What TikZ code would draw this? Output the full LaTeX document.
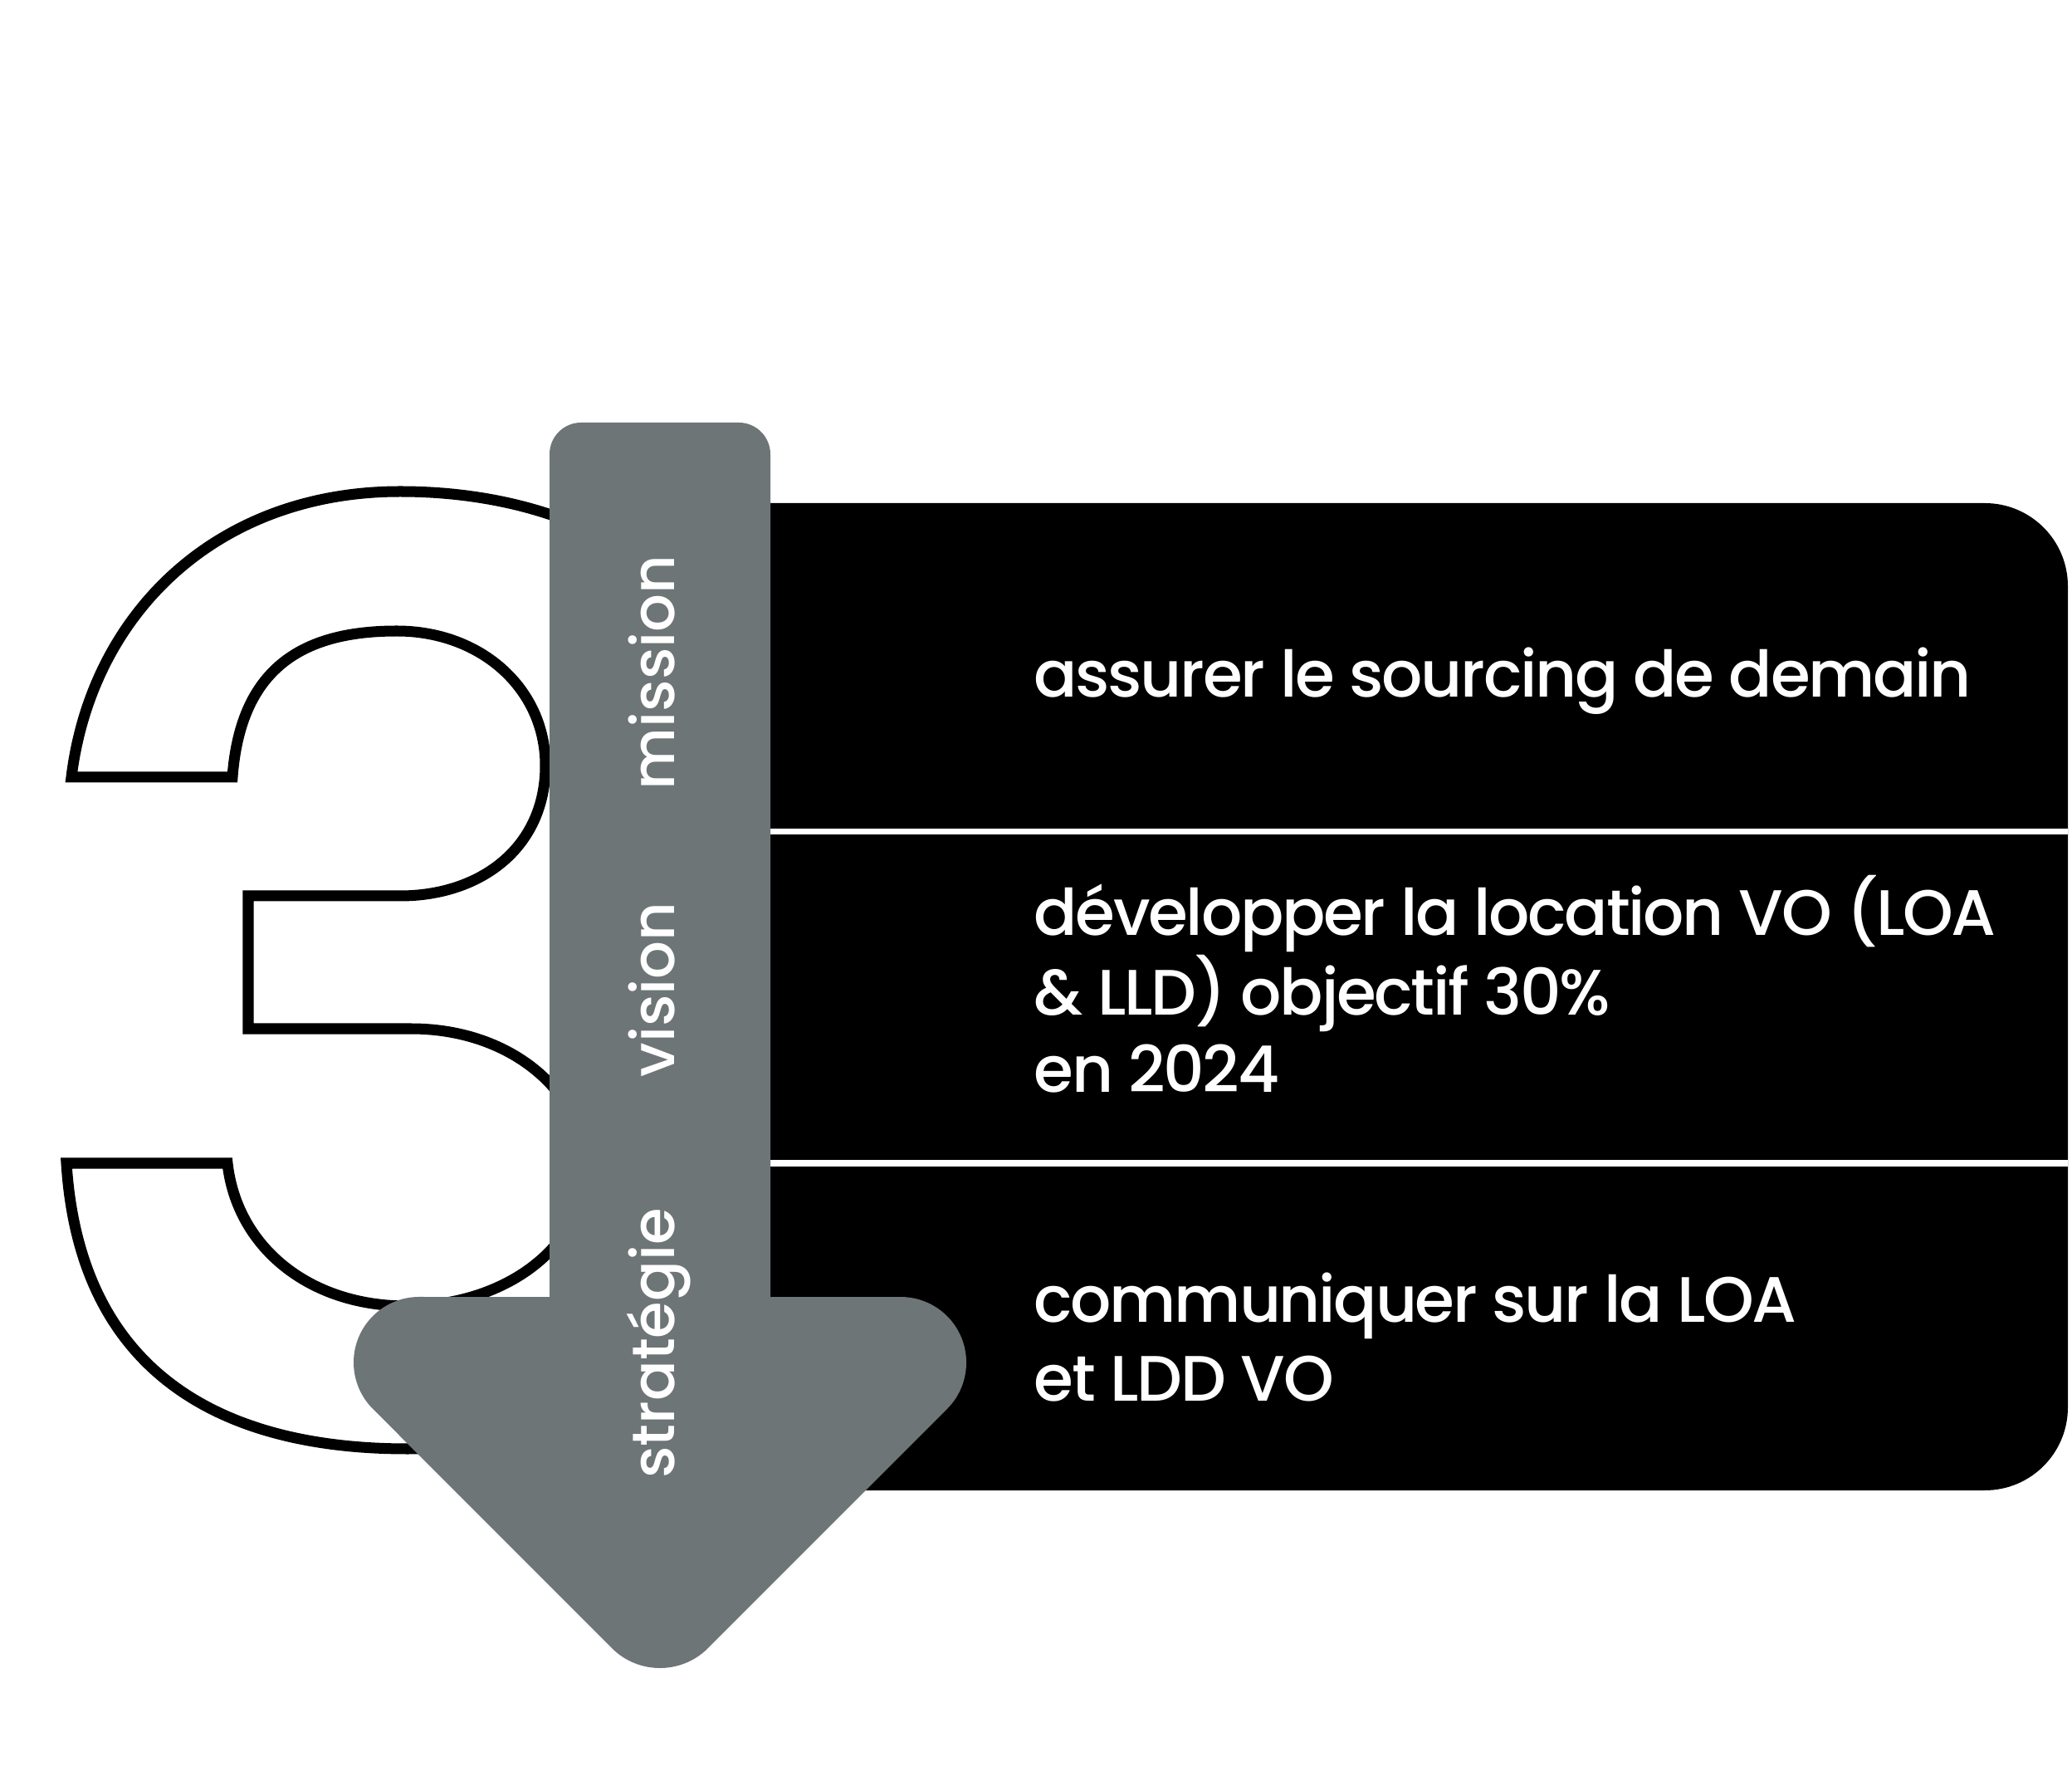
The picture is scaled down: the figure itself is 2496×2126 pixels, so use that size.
\documentclass[tikz,border=0pt]{standalone}
\usepackage{fontspec}
\setmainfont{Poppins}
\newfontfamily\pmed{Poppins Medium}[LetterSpace=-3]
\newfontfamily\plabel{Poppins Medium}
\definecolor{arrowgray}{RGB}{110,117,119}
\begin{document}
\begin{tikzpicture}[x=0.01cm,y=0.01cm,
  outlinethree/.style={draw=black,line width=0.13cm,line join=miter,fill=white},
  panel/.style={fill=black},
  divider/.style={draw=white,line width=0.07cm},
  arrowbody/.style={fill=arrowgray},
  boxtext/.style={text=white,font=\pmed\fontsize{22}{27}\selectfont,anchor=base west,inner sep=0pt},
  steplabel/.style={text=white,font=\plabel\fontsize{20.5}{24}\selectfont,rotate=90,anchor=base,inner sep=0pt}]
\fill[white] (0,0) rectangle (2496,2126);
\useasboundingbox (0,0) rectangle (2496,2126);
% outlined digit 3
\path[outlinethree] (86,1190)
  .. controls (110,1386) and (260,1534) .. (482,1534)
  .. controls (700,1534) and (880,1426) .. (880,1246)
  .. controls (880,1126) and (820,1026) .. (760,966)
  .. controls (860,916) and (910,806) .. (910,686)
  .. controls (910,506) and (720,381) .. (491,381)
  .. controls (250,381) and (95,486) .. (80,725)
  -- (274,725)
  .. controls (285,626) and (370,553) .. (490,553)
  .. controls (610,553) and (705,626) .. (705,720)
  .. controls (705,806) and (620,887) .. (495,887)
  -- (299,887) -- (299,1047) -- (482,1047)
  .. controls (580,1047) and (657,1106) .. (657,1204)
  .. controls (657,1296) and (580,1366) .. (478,1366)
  .. controls (370,1366) and (290,1326) .. (280,1190)
  -- cycle;
% black panel
\path[panel] (800,1520) -- (2391,1520) arc[start angle=90,end angle=0,radius=100]
  -- (2491,431) arc[start angle=0,end angle=-90,radius=100] -- (800,331) -- cycle;
\draw[divider] (800,1124) -- (2491,1124);
\draw[divider] (800,725) -- (2491,725);
% arrow
\path[arrowbody,rounded corners=0.38cm] (662,480) -- (662,1617) -- (928,1617) -- (928,480) -- cycle;
\path[arrowbody] (505,564) arc[start angle=90,end angle=225,radius=79] -- (737,141)
  arc[start angle=225,end angle=315,radius=82] -- (1140.9,429.1)
  arc[start angle=-45,end angle=90,radius=79] -- cycle;
% labels
\node[steplabel] (mission) at (812,1316) {mission};
\node[steplabel] (vision) at (812,934) {vision};
\node[steplabel] (strategie) at (812,508) {stratégie};
% texts
\node[boxtext] (t1) at (1245,1286) {assurer le sourcing de demain};
\node[boxtext] (t2a) at (1245,999) {développer la location VO (LOA};
\node[boxtext] (t2b) at (1245,903) {\& LLD) objectif 30\%};
\node[boxtext] (t2c) at (1245,810) {en 2024};
\node[boxtext] (t3a) at (1245,534) {communiquer sur la LOA};
\node[boxtext] (t3b) at (1245,439) {et LDD VO};
\end{tikzpicture}
\end{document}
